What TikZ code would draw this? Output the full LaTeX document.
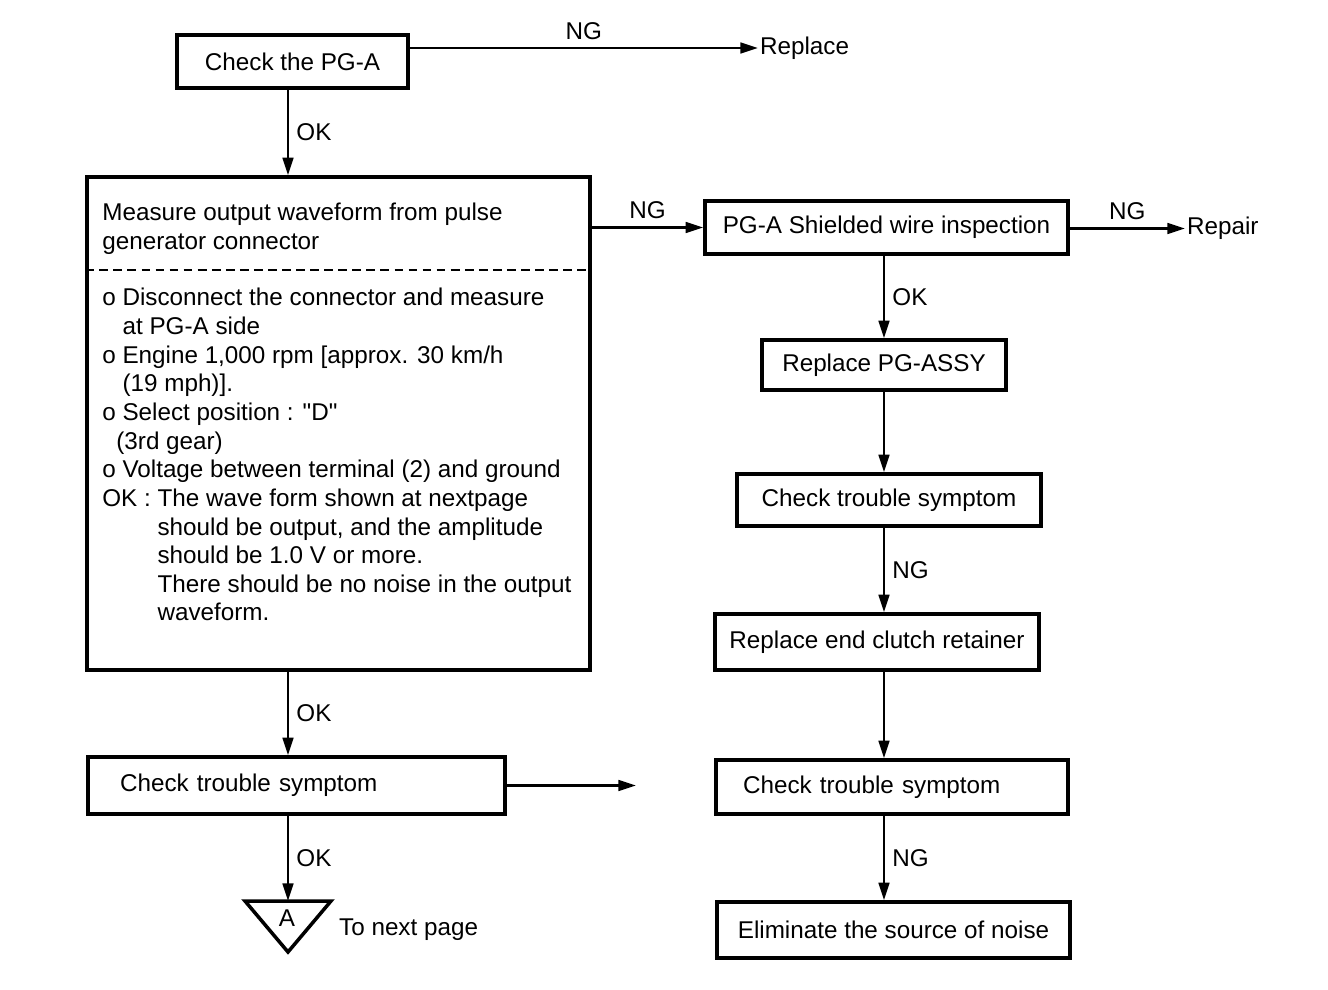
\documentclass[tikz,border=0pt]{standalone}
\usepackage{fontspec}
\setmainfont{Liberation Sans}
\usetikzlibrary{positioning, arrows.meta}

\begin{document}
\begin{tikzpicture}[x=0.02cm, y=-0.02cm, >={Triangle[length=10pt,width=6pt]},
        font=\fontsize{13.8}{16.3}\selectfont,
        box/.style={draw, line width=2pt, inner sep=0pt},
        lbl/.style={inner sep=4pt}]
        \useasboundingbox (0,0) rectangle (1328,990);
        \coordinate (lx) at (288,0);
        \coordinate (rx) at (884,0);
        % left column
        \node[box, minimum width=4.62cm, minimum height=1.06cm] (chk) at (292.5,61.5) {Check the PG-A};
        \node[anchor=west, inner sep=1pt] (rep) at (758,48) {Replace};
        \node[box, minimum width=10.06cm, minimum height=9.86cm] (meas) at (338.5,423.5) {};
        \node[anchor=north west, inner sep=0pt, align=left] (head) at (102,203)
          {Measure output waveform from pulse\\generator connector};
        \draw[line width=1.1pt, dash pattern=on 5pt off 3pt]
          ([yshift=-1.9cm]meas.north west) -- ([yshift=-1.9cm]meas.north east);
        \node[anchor=north west, inner sep=0pt, align=left] (steps) at (102,288)
          {o Disconnect the connector and measure\\
           \hphantom{o\ }at PG-A side\\
           o Engine 1,000 rpm [approx. 30 km/h\\
           \hphantom{o\ }(19 mph)].\\
           o Select position : \textquotedbl D\textquotedbl\\
           \hspace*{8pt}(3rd gear)\\
           o Voltage between terminal (2) and ground\\
           OK : The wave form shown at nextpage\\
           \hphantom{OK :\ }should be output, and the amplitude\\
           \hphantom{OK :\ }should be 1.0 V or more.\\
           \hphantom{OK :\ }There should be no noise in the output\\
           \hphantom{OK :\ }waveform.};
        \node[box, text width=7.06cm, inner xsep=0.64cm, minimum height=1.14cm, align=left] (chk1) at (296.5,785.5) {Check trouble symptom};
        \coordinate (free) at (636,785.5);
        \coordinate (tri) at (288,901);
        \draw[line width=2pt] (245,901) -- (331,901) -- (288,952) -- cycle;
        \node (a) at (287,918) {A};
        \node[anchor=west] (next) at (333,930) {To next page};
        % right column
        \node[box, minimum width=7.26cm, minimum height=1.06cm] (shld) at (886.5,227.5) {PG-A Shielded wire inspection};
        \node[anchor=west, inner sep=1pt] (rpr) at (1185,228.5) {Repair};
        \node[box, minimum width=4.88cm, minimum height=1cm] (rassy) at (884,365) {Replace PG-ASSY};
        \node[box, minimum width=6.08cm, minimum height=1.04cm] (chk2) at (889,500) {Check trouble symptom};
        \node[box, minimum width=6.48cm, minimum height=1.12cm] (rclu) at (877,642) {Replace end clutch retainer};
        \node[box, text width=5.96cm, inner xsep=0.54cm, minimum height=1.08cm, align=left] (chk3) at (892,787) {Check trouble symptom};
        \node[box, minimum width=7.06cm, minimum height=1.12cm] (elim) at (893.5,930) {Eliminate the source of noise};
        \path[->, line width=1.6pt]
        (chk.east |- rep.west) edge node[above, lbl] {NG} (rep.west)
        (lx |- chk.south) edge node[right, lbl] {OK} (lx |- meas.north)
        (meas.east |- shld.west) edge node[above, lbl] {NG} (shld.west)
        (shld.east |- rpr.west) edge node[above, lbl] {NG} (rpr.west)
        (rx |- shld.south) edge node[right, lbl] {OK} (rx |- rassy.north)
        (rx |- rassy.south) edge (rx |- chk2.north)
        (rx |- chk2.south) edge node[right, lbl] {NG} (rx |- rclu.north)
        (rx |- rclu.south) edge (rx |- chk3.north)
        (rx |- chk3.south) edge node[right, lbl] {NG} (rx |- elim.north)
        (lx |- meas.south) edge node[right, lbl] {OK} (lx |- chk1.north)
        (chk1.east) edge (free)
        (lx |- chk1.south) edge node[right, lbl] {OK} (tri);
      \end{tikzpicture}
\end{document}
